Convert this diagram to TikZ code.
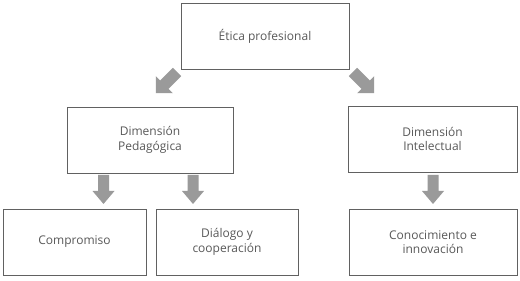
\documentclass[tikz,border=0pt]{standalone}
\usepackage{fontspec}
\setmainfont{Open Sans}
\begin{document}
\begin{tikzpicture}[x=1pt,y=1pt,
  boxc/.style={draw=black!62, line width=0.8pt, fill=white, align=center,
    text=black!65, font=\fontsize{12}{14.5}\selectfont, inner sep=0pt, minimum height=66pt},
  blockarrow/.pic={\fill[arrowgray] (-5.5,0) -- (5.5,0) -- (5.5,-16) -- (11,-16) -- (0,-29) -- (-11,-16) -- (-5.5,-16) -- cycle;},
  diagarrow/.pic={\fill[arrowgray] (-6,0) -- (6,0) -- (6,-18) -- (12,-18) -- (0,-30) -- (-12,-18) -- (-6,-18) -- cycle;}
]
\definecolor{arrowgray}{HTML}{9A9A9A}
\useasboundingbox (0,0) rectangle (520,281);
\node[boxc, minimum width=168pt] (top) at (265,245) {Ética profesional};
\node[boxc, minimum width=166pt] (ped) at (150,141) {Dimensión\\Pedagógica};
\node[boxc, minimum width=169pt] (int) at (432.5,142) {Dimensión\\Intelectual};
\node[boxc, minimum width=143pt] (comp) at (74.5,39) {Compromiso};
\node[boxc, minimum width=142pt] (dia) at (227,39) {Diálogo y\\cooperación};
\node[boxc, minimum width=168pt] (con) at (433,39) {Conocimiento e\\innovación};
\pic[rotate=-45] (a1) at (177,209) {diagarrow};
\pic[rotate=45] (a2) at (353,209) {diagarrow};
\pic (a3) at (103.5,106) {blockarrow};
\pic (a4) at (193,106) {blockarrow};
\pic (a5) at (433,106) {blockarrow};
\end{tikzpicture}
\end{document}
